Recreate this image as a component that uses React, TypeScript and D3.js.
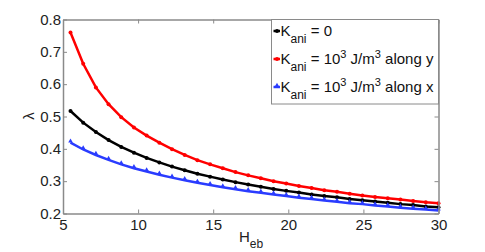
import React, { useEffect, useRef } from 'react';
import { select, scaleLinear, axisBottom, axisLeft, axisTop, axisRight, line, symbol, symbolTriangle } from 'd3';

// field values H_eb (30 samples from 5.5 to 30)
const hEb = [5.5, 6.345, 7.19, 8.034, 8.879, 9.724, 10.569, 11.414, 12.259, 13.103,
  13.948, 14.793, 15.638, 16.483, 17.328, 18.172, 19.017, 19.862, 20.707, 21.552,
  22.397, 23.241, 24.086, 24.931, 25.776, 26.621, 27.466, 28.31, 29.155, 30];

const lambdaZero = [0.517, 0.481, 0.452, 0.427, 0.406, 0.388, 0.372, 0.358, 0.345, 0.334,
  0.323, 0.314, 0.305, 0.297, 0.290, 0.283, 0.276, 0.270, 0.265, 0.259,
  0.254, 0.250, 0.245, 0.241, 0.237, 0.233, 0.229, 0.226, 0.222, 0.219];

const lambdaY = [0.760, 0.663, 0.590, 0.538, 0.498, 0.466, 0.441, 0.419, 0.399, 0.381,
  0.365, 0.352, 0.340, 0.328, 0.318, 0.309, 0.300, 0.293, 0.285, 0.279,
  0.272, 0.267, 0.261, 0.256, 0.251, 0.247, 0.243, 0.239, 0.235, 0.232];

const lambdaX = [0.419, 0.398, 0.381, 0.366, 0.352, 0.340, 0.330, 0.320, 0.311, 0.303,
  0.295, 0.288, 0.281, 0.275, 0.269, 0.264, 0.259, 0.254, 0.249, 0.245,
  0.240, 0.236, 0.232, 0.229, 0.225, 0.222, 0.218, 0.215, 0.212, 0.209];

const xTicks = [5, 10, 15, 20, 25, 30];
const yTicks = [0.2, 0.3, 0.4, 0.5, 0.6, 0.7, 0.8];

const legendTail = ['= 0', 'y', 'x'];

const W = 485, H = 252;
const L = 63, R = 438.5, T = 19.5, B = 213.5;
const FONT = '"Liberation Sans", Arial, Helvetica, sans-serif';
const AXIS = '#8a8a8a';

export default function App() {
  const svgRef = useRef<SVGSVGElement>(null);

  useEffect(() => {
    const svg = select(svgRef.current);
    svg.selectAll('*').remove();

    const x = scaleLinear().domain([5, 30]).range([L, R]);
    const y = scaleLinear().domain([0.2, 0.8]).range([B, T]);

    const series = [
      { vals: lambdaZero, color: '#000000', mark: 'dot' },
      { vals: lambdaY, color: '#ff0000', mark: 'dot' },
      { vals: lambdaX, color: '#2a3cff', mark: 'tri' },
    ];

    const tri = symbol().type(symbolTriangle).size(9);

    // curves
    const ln = line<number>().x((d, i) => x(hEb[i])).y(d => y(d));
    series.forEach(s => {
      svg.append('path')
        .attr('d', ln(s.vals))
        .attr('fill', 'none')
        .attr('stroke', s.color)
        .attr('stroke-width', 2.5);
      if (s.mark === 'dot') {
        svg.append('g').selectAll('circle')
          .data(s.vals)
          .join('circle')
          .attr('cx', (d, i) => x(hEb[i]))
          .attr('cy', d => y(d))
          .attr('r', 2)
          .attr('fill', s.color);
      } else {
        svg.append('g').selectAll('path')
          .data(s.vals)
          .join('path')
          .attr('d', tri)
          .attr('transform', (d, i) => `translate(${x(hEb[i])},${y(d) - 1.5})`)
          .attr('fill', s.color);
      }
    });

    // axes box
    const styleAxis = (g: any) => {
      g.select('.domain').attr('stroke', AXIS).attr('stroke-width', 1.5);
      g.selectAll('.tick line').attr('stroke', AXIS);
      g.selectAll('.tick text')
        .attr('fill', '#222')
        .style('font-family', FONT)
        .style('font-size', '15px');
    };

    svg.append('g')
      .attr('transform', `translate(0,${B})`)
      .call(axisBottom(x).tickValues(xTicks).tickSizeInner(-4).tickSizeOuter(0).tickPadding(6).tickFormat(d => String(d)))
      .call(styleAxis);
    svg.append('g')
      .attr('transform', `translate(0,${T})`)
      .call(axisTop(x).tickValues(xTicks).tickSizeInner(-4).tickSizeOuter(0).tickFormat(() => ''))
      .call(styleAxis);
    svg.append('g')
      .attr('transform', `translate(${L},0)`)
      .call(axisLeft(y).tickValues(yTicks).tickSizeInner(-4).tickSizeOuter(0).tickPadding(2).tickFormat(d => (+d).toFixed(1)))
      .call(styleAxis);
    svg.append('g')
      .attr('transform', `translate(${R},0)`)
      .call(axisRight(y).tickValues(yTicks).tickSizeInner(-4).tickSizeOuter(0).tickFormat(() => ''))
      .call(styleAxis);

    // axis titles
    svg.append('text')
      .attr('transform', 'translate(34,116) rotate(-90)')
      .attr('text-anchor', 'middle')
      .style('font-family', FONT)
      .style('font-size', '15px')
      .attr('fill', '#222')
      .text('λ');

    const xt = svg.append('text')
      .attr('x', 239)
      .attr('y', 242)
      .style('font-family', FONT)
      .style('font-size', '15px')
      .attr('fill', '#222');
    xt.append('tspan').text('H');
    xt.append('tspan').attr('dy', 6).style('font-size', '12px').text('eb');

    // legend
    const lg = svg.append('g');
    lg.append('rect')
      .attr('x', 271.5).attr('y', T)
      .attr('width', R - 271.5).attr('height', 104 - T)
      .attr('fill', 'white')
      .attr('stroke', AXIS)
      .attr('stroke-width', 1);

    series.forEach((s, i) => {
      const yy = 31 + i * 28;
      lg.append('line')
        .attr('x1', 273.5).attr('x2', 280)
        .attr('y1', yy).attr('y2', yy)
        .attr('stroke', s.color).attr('stroke-width', 2.5);
      if (s.mark === 'dot') {
        lg.append('circle').attr('cx', 277).attr('cy', yy).attr('r', 2).attr('fill', s.color);
      } else {
        lg.append('path').attr('d', tri).attr('transform', `translate(277,${yy - 1.5})`).attr('fill', s.color);
      }
      const t = lg.append('text')
        .attr('x', 280.5)
        .attr('y', yy + 4.5)
        .style('font-family', FONT)
        .style('font-size', '15px')
        .attr('fill', '#111');
      t.append('tspan').text('K');
      t.append('tspan').attr('dy', 7).style('font-size', '12px').text('ani');
      if (i === 0) {
        t.append('tspan').attr('dy', -7).text(' ' + legendTail[0]);
      } else {
        t.append('tspan').attr('dy', -7).text(' = 10');
        t.append('tspan').attr('dy', -6).style('font-size', '11px').text('3');
        t.append('tspan').attr('dy', 6).text(' J/m');
        t.append('tspan').attr('dy', -6).style('font-size', '11px').text('3');
        t.append('tspan').attr('dy', 6).text(' along ' + legendTail[i]);
      }
    });
  }, []);

  return (
    <svg
      ref={svgRef}
      width={W}
      height={H}
      style={{ position: 'absolute', left: 0, top: 0, background: 'white' }}
    />
  );
}
